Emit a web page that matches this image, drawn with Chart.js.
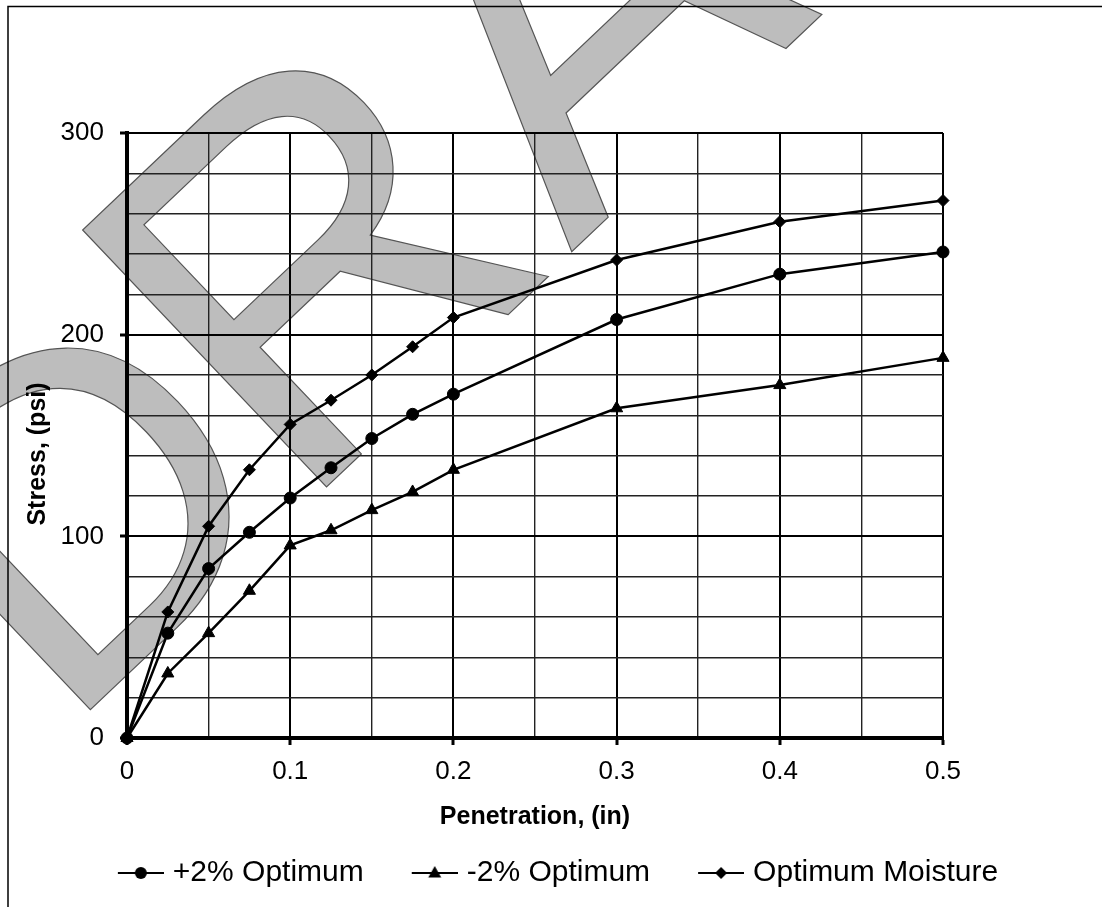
<!DOCTYPE html>
<html><head><meta charset="utf-8">
<script src="https://cdn.jsdelivr.net/npm/chart.js@4.4.1/dist/chart.umd.min.js"></script>
<style>html,body{margin:0;padding:0;background:#fff}#wrap{width:1102px;height:907px;position:relative}canvas{display:block}</style>
</head><body><div id="wrap"><canvas id="c" width="1102" height="907"></canvas></div>
<script>
const penetration = [0, 0.025, 0.05, 0.075, 0.1, 0.125, 0.15, 0.175, 0.2, 0.3, 0.4, 0.5];
const plus2 = [0, 52, 84, 102, 119, 134, 148.5, 160.5, 170.5, 207.5, 230, 241];
const minus2 = [0, 32, 52, 73, 95.5, 103, 113, 122, 133, 163.5, 175, 188.5];
const optimum = [0, 62.5, 105, 133, 155.5, 167.5, 180, 194, 208.5, 237, 256, 266.5];
const seriesNames = ['+2% Optimum', '-2% Optimum', 'Optimum Moisture'];
const seriesMarkers = ['circle', 'triangle', 'rectRot'];
const xTickLabels = ['0', '0.1', '0.2', '0.3', '0.4', '0.5'];
const yTickLabels = ['0', '100', '200', '300'];
const xTitle = 'Penetration, (in)';
const yTitle = 'Stress, (psi)';
const watermarkText = 'DRAFT';

const FONT = '"Liberation Sans", Arial, sans-serif';
Chart.defaults.font.family = FONT;
Chart.defaults.color = '#000';

function pts(ys) { return penetration.map((x, i) => ({ x: x, y: ys[i] })); }

function makeIcon(style) {
  const c = document.createElement('canvas');
  c.width = 74; c.height = 20;
  const g = c.getContext('2d');
  g.strokeStyle = '#000'; g.fillStyle = '#000'; g.lineWidth = 2.2;
  g.beginPath(); g.moveTo(28, 10); g.lineTo(74, 10); g.stroke();
  const cx = 51, cy = 10;
  g.beginPath();
  if (style === 'circle') { g.arc(cx, cy, 6, 0, Math.PI * 2); }
  else if (style === 'triangle') { g.moveTo(cx, cy - 7); g.lineTo(cx + 6.5, cy + 4.5); g.lineTo(cx - 6.5, cy + 4.5); g.closePath(); }
  else { g.moveTo(cx, cy - 6); g.lineTo(cx + 6, cy); g.lineTo(cx, cy + 6); g.lineTo(cx - 6, cy); g.closePath(); }
  g.fill();
  return c;
}

const seriesData = [plus2, minus2, optimum];
const radii = [6, 7, 6];
const datasets = seriesData.map((ys, i) => ({
  label: seriesNames[i],
  data: pts(ys),
  borderColor: '#000',
  backgroundColor: '#000',
  borderWidth: 2.5,
  pointStyle: seriesMarkers[i],
  pointRadius: radii[i],
  pointBorderWidth: 1,
  pointBorderColor: '#000',
  pointBackgroundColor: '#000',
  tension: 0,
  fill: false,
  clip: false
}));

const isMajorX = v => Math.round(v * 1000) % 100 === 0;
const isMajorY = v => Math.round(v) % 100 === 0;

// watermark letters: [bottom-left glyph corner x, y, left side bearing (em), font size]
const wmLetters = [[89, 711, 0.078, 465], [326.5, 487, 0.082, 515], [571, 252.5, 0.0, 520], [854, -16, 0.082, 520], [1100, -250, 0.02, 520]];
const watermark = {
  id: 'watermark',
  beforeDraw(chart) {
    const ctx = chart.ctx;
    const ang = -43.5 * Math.PI / 180;
    ctx.save();
    ctx.textBaseline = 'alphabetic';
    ctx.textAlign = 'left';
    ctx.fillStyle = '#bdbdbd';
    ctx.strokeStyle = '#555';
    ctx.lineWidth = 1.2;
    for (let i = 0; i < watermarkText.length; i++) {
      const [cx, cy, lsb, fs] = wmLetters[i];
      ctx.save();
      ctx.font = fs + 'px ' + FONT;
      ctx.translate(cx, cy);
      ctx.rotate(ang);
      ctx.fillText(watermarkText[i], -lsb * fs, 0);
      ctx.strokeText(watermarkText[i], -lsb * fs, 0);
      ctx.restore();
    }
    ctx.restore();
  }
};

const extras = {
  id: 'extras',
  afterDraw(chart) {
    const ctx = chart.ctx;
    ctx.save();
    ctx.strokeStyle = '#000';
    ctx.lineWidth = 1.5;
    ctx.beginPath();
    ctx.moveTo(8, 907); ctx.lineTo(8, 6.5); ctx.lineTo(1102, 6.5);
    ctx.stroke();
    ctx.translate(38.5, 454);
    ctx.rotate(-Math.PI / 2);
    ctx.font = 'bold 25px ' + FONT;
    ctx.fillStyle = '#000';
    ctx.textAlign = 'center';
    ctx.textBaseline = 'middle';
    ctx.fillText(yTitle, 0, 0);
    ctx.restore();
  }
};

new Chart(document.getElementById('c'), {
  type: 'line',
  data: { datasets: datasets },
  options: {
    responsive: false,
    animation: false,
    devicePixelRatio: 1,
    layout: { padding: { top: 133, left: 0, right: 8, bottom: 9 } },
    scales: {
      x: {
        type: 'linear', position: 'bottom', min: 0, max: 0.5,
        afterFit: s => { s.height = 94; },
        ticks: {
          stepSize: 0.05, autoSkip: false, maxRotation: 0, padding: 11,
          font: { size: 26 }, color: '#000',
          callback: v => isMajorX(v) ? xTickLabels[Math.round(v * 10)] : ''
        },
        grid: {
          color: c => isMajorX(c.tick.value) ? '#000' : '#222',
          lineWidth: c => isMajorX(c.tick.value) ? 2 : 1.4,
          tickLength: 7,
          tickWidth: c => isMajorX(c.tick.value) ? 3 : 1,
          tickColor: c => isMajorX(c.tick.value) ? '#000' : 'rgba(0,0,0,0)'
        },
        border: { display: true, color: '#000', width: 4 },
        title: { display: true, text: xTitle, font: { size: 25, weight: 'bold' }, color: '#000', padding: 0 }
      },
      y: {
        type: 'linear', position: 'left', min: 0, max: 300,
        afterFit: s => { s.width = 127; },
        ticks: {
          stepSize: 20, autoSkip: false, padding: 16,
          font: { size: 26 }, color: '#000',
          callback: v => isMajorY(v) ? yTickLabels[Math.round(v / 100)] : ''
        },
        grid: {
          color: c => isMajorY(c.tick.value) ? '#000' : '#222',
          lineWidth: c => isMajorY(c.tick.value) ? 2 : 1.4,
          tickLength: 7,
          tickWidth: c => isMajorY(c.tick.value) ? 3 : 1,
          tickColor: c => isMajorY(c.tick.value) ? '#000' : 'rgba(0,0,0,0)'
        },
        border: { display: true, color: '#000', width: 4 },
        title: { display: false }
      },
      y2: {
        type: 'linear', position: 'right', display: true,
        afterFit: s => { s.width = 151; },
        grid: { display: false, drawTicks: false },
        ticks: { display: false },
        border: { display: false }
      }
    },
    plugins: {
      tooltip: { enabled: false },
      legend: {
        display: true, position: 'bottom',
        labels: {
          font: { size: 30 }, color: '#000',
          usePointStyle: true, pointStyleWidth: 62, padding: 26,
          generateLabels: chart => chart.data.datasets.map((ds, i) => ({
            text: ds.label,
            pointStyle: makeIcon(seriesMarkers[i]),
            fillStyle: '#000', strokeStyle: '#000', lineWidth: 0,
            fontColor: '#000', hidden: false, datasetIndex: i
          }))
        }
      }
    }
  },
  plugins: [watermark, extras]
});
</script>
</body></html>
